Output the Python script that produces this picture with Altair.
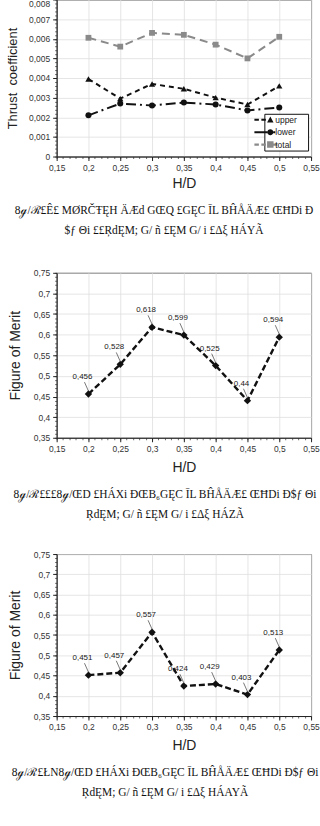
import altair as alt
import pandas as pd

# ---------------- data ----------------
hd = [0.2, 0.25, 0.3, 0.35, 0.4, 0.45, 0.5]
series = ["upper", "lower", "total"]
ct_upper = [0.00395, 0.00295, 0.0037, 0.00345, 0.0030, 0.00265, 0.0036]
ct_lower = [0.0021, 0.0027, 0.0026, 0.00275, 0.00265, 0.00235, 0.0025]
ct_total = [0.00605, 0.0056, 0.0063, 0.0062, 0.0057, 0.0050, 0.0061]
fm_top = [0.456, 0.528, 0.618, 0.599, 0.525, 0.44, 0.594]
fm_bottom = [0.451, 0.457, 0.557, 0.424, 0.429, 0.403, 0.513]

caption_1 = ["8ℊ/ℛ£Ê£ MØRČŦĘH ÄÆd GŒQ £GĘC ĪL BĤÅÄÆ£ ŒĦDi Ð",
             "$ƒ Θi ££ŖdĘM; G/ ñ £ĘM G/ i £Δξ HÁYÃ"]
caption_2 = ["8ℊ/ℛ£££8ℊ/ŒD £HÁXi ĐŒB₆GĘC ĪL BĤÅÄÆ£ ŒĦDi Ð$ƒ Θi",
             "ŖdĘM; G/ ñ £ĘM G/ i £Δξ HÁZÃ"]
caption_3 = ["8ℊ/ℛ£ŁN8ℊ/ŒD £HÁXi ĐŒB₆GĘC ĪL BĤÅÄÆ£ ŒĦDi Ð$ƒ Θi",
             "ŖdĘM; G/ ñ £ĘM G/ i £Δξ HÁAYÃ"]

# ---------------- styling ----------------
FONT = "Liberation Sans"
SERIF = "Liberation Serif"
PLOT_W = 256
COMMA2 = "replace(format(datum.value, '.2~f'), '.', ',')"
COMMA3 = "replace(format(datum.value, '.3~f'), '.', ',')"


def major_axis(orient, title, label_expr, title_pad, title_size, label_offset=0):
    return alt.Axis(orient=orient, title=title, tickCount=8, labelExpr=label_expr,
                    grid=True, gridColor="#dedede", gridWidth=0.8,
                    domain=True, domainColor="#222", domainWidth=1,
                    tickColor="#222", tickSize=4,
                    labelFont=FONT, labelFontSize=8.5, labelColor="#333", labelPadding=3,
                    labelFlush=False, labelOverlap=False, labelOffset=label_offset,
                    titleFont=FONT, titleFontSize=title_size, titleFontWeight="normal",
                    titleColor="#222", titlePadding=title_pad)


def minor_axis(orient):
    return alt.Axis(orient=orient, title=None, labels=False, grid=False, domain=False,
                    tickCount=40, tickSize=2, tickColor="#444", tickWidth=0.8)


def caption(lines, dx, offset):
    return alt.TitleParams(text=lines, orient="bottom", anchor="middle", frame="group",
                           dx=dx, offset=offset, font=SERIF, fontSize=11.5, fontWeight="normal",
                           color="#111", lineHeight=20)


x_scale = alt.Scale(domain=[0.15, 0.55], nice=False)

# ---------------- chart 1 : thrust coefficient ----------------
df1 = pd.DataFrame({
    "hd": hd * 3,
    "ct": ct_upper + ct_lower + ct_total,
    "series": [s for s in series for _ in hd],
})
y1_scale = alt.Scale(domain=[0, 0.008], nice=False)
col_scale = alt.Scale(domain=series, range=["#111111", "#111111", "#8a8a8a"])

lines1 = alt.Chart(df1).mark_line().encode(
    x=alt.X("hd:Q", scale=x_scale, axis=minor_axis("bottom")),
    y=alt.Y("ct:Q", scale=y1_scale, axis=minor_axis("left")),
    color=alt.Color("series:N", scale=col_scale, legend=None),
    strokeDash=alt.StrokeDash("series:N", scale=alt.Scale(domain=series, range=[[5, 4], [10, 4, 2, 4], [8, 5]]), legend=None),
    size=alt.Size("series:N", scale=alt.Scale(domain=series, range=[2, 2, 3]), legend=None),
    detail="series:N",
)

top_label_nudge = {"condition": {"test": "datum.value > 0.0079", "value": 4}, "value": 0}
points1 = alt.Chart(df1).mark_point(filled=True, opacity=1).encode(
    x=alt.X("hd:Q", scale=x_scale, axis=major_axis("bottom", "H/D", COMMA2, 5, 14)),
    y=alt.Y("ct:Q", scale=y1_scale,
            axis=major_axis("left", "Thrust\u00a0 coefficient", COMMA3, 9, 13, top_label_nudge)),
    color=alt.Color("series:N", scale=col_scale, legend=None),
    shape=alt.Shape("series:N", scale=alt.Scale(domain=series, range=["triangle-up", "circle", "square"]), legend=None),
    size=alt.Size("series:N", scale=alt.Scale(domain=series, range=[40, 34, 60]), legend=None),
)

# legend glyphs: dashed line + marker; the degenerate end segments widen the legend box
legend_paths = [
    "M-6.1,0L-6.1,0 M-3.2,-0.2H-2.3V0.2H-3.2Z M-1.8,-0.2H-0.9V0.2H-1.8Z M-0.65,0.55L0,-0.65L0.65,0.55Z M7.4,0L7.4,0",
    "M-6.1,0L-6.1,0 M-3.2,-0.2H-0.6V0.2H-3.2Z M0.6,-0.2H1.0V0.2H0.6Z M-0.6,0A0.6,0.6 0 1,1 0.6,0A0.6,0.6 0 1,1 -0.6,0Z M7.4,0L7.4,0",
    "M-6.1,0L-6.1,0 M-3.2,-0.22H-2.3V0.22H-3.2Z M-1.8,-0.22H-0.9V0.22H-1.8Z M-0.65,-0.65H0.65V0.65H-0.65Z M0.65,-0.22H1.4V0.22H0.65Z M7.4,0L7.4,0",
]
leg = alt.Legend(orient="none", legendX=209, legendY=115, title=None,
                 strokeColor="#111", fillColor="white", padding=1,
                 symbolSize=100, symbolStrokeWidth=0,
                 labelOffset=0, labelFont=FONT, labelFontSize=8.5, labelColor="#222",
                 rowPadding=2.5)

legend1 = alt.Chart(df1).transform_filter("false").mark_point(filled=True, opacity=1).encode(
    shape=alt.Shape("series:N", scale=alt.Scale(domain=series, range=legend_paths), legend=leg),
    color=alt.Color("series:N", scale=alt.Scale(domain=series, range=["#111111", "#111111", "#8a8a8a"]), legend=leg),
)

chart1 = alt.layer(lines1, alt.layer(points1), legend1).resolve_axis(
    x="independent", y="independent"
).resolve_scale(
    shape="independent", color="independent", size="independent"
).properties(width=PLOT_W, height=158, title=caption(caption_1, -20, 14))


# ---------------- charts 2 & 3 : figure of merit ----------------
def fm_chart(values, cap, height):
    df = pd.DataFrame({"hd": hd, "fm": values})
    y_scale = alt.Scale(domain=[0.35, 0.75], nice=False)
    base = alt.Chart(df)
    line = base.mark_line(color="#111", strokeDash=[6, 3], strokeWidth=2.4).encode(
        x=alt.X("hd:Q", scale=x_scale, axis=minor_axis("bottom")),
        y=alt.Y("fm:Q", scale=y_scale, axis=minor_axis("left")),
    )
    pts = base.mark_point(filled=True, opacity=1, shape="diamond", size=55, color="#111").encode(
        x=alt.X("hd:Q", scale=x_scale, axis=major_axis("bottom", "H/D", COMMA2, 7, 14)),
        y=alt.Y("fm:Q", scale=y_scale, axis=major_axis("left", "Figure of Merit", COMMA2, 11, 14)),
    )
    lead = base.mark_rule(strokeWidth=0.8, yOffset=-3, x2Offset=-4, y2Offset=-12).encode(
        x="hd:Q", y="fm:Q", x2="hd:Q", y2="fm:Q", color=alt.value("#555555"),
    )
    txt = base.transform_calculate(
        lab="replace(format(datum.fm, '.3~f'), '.', ',')"
    ).mark_text(dx=-6, dy=-17, font=FONT, fontSize=8).encode(
        x="hd:Q", y="fm:Q", text="lab:N", color=alt.value("#222222"),
    )
    return alt.layer(line, alt.layer(pts, lead, txt)).resolve_axis(
        x="independent", y="independent"
    ).properties(width=PLOT_W, height=height, title=caption(cap, -19, 15))


chart2 = fm_chart(fm_top, caption_2, 166)
chart3 = fm_chart(fm_bottom, caption_3, 163)

chart = alt.vconcat(chart1, chart2, chart3, spacing=117, bounds="flush").properties(
    padding={"left": 6, "top": -4, "right": 0, "bottom": 0}
).configure_view(stroke="#222", strokeWidth=1)

chart.save("out.html", embed_options={"renderer": "svg", "actions": False})
